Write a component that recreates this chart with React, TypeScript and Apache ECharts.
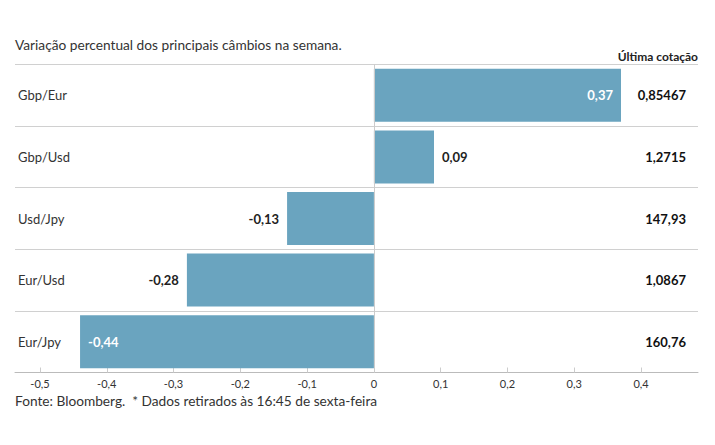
import React, { useEffect, useRef } from "react";
import * as echarts from "echarts";

const categories = ["Gbp/Eur", "Gbp/Usd", "Usd/Jpy", "Eur/Usd", "Eur/Jpy"];
const changes = [0.37, 0.09, -0.13, -0.28, -0.44];
const quotes = ["0,85467", "1,2715", "147,93", "1,0867", "160,76"];
const tickValues = [-0.5, -0.4, -0.3, -0.2, -0.1, 0, 0.1, 0.2, 0.3, 0.4];

const FONT = "Lato";
const BAR = "#6aa4bf";

const fmt = (v: number) => String(Math.round(v * 100) / 100).replace(".", ",");

export default function App() {
  const ref = useRef<HTMLDivElement>(null);
  useEffect(() => {
    document.body.style.margin = "0";
    const chart = echarts.init(ref.current!, null, { renderer: "svg" });
    const data = changes.map((v) => {
      const inside = Math.abs(v) > 0.3;
      return {
        value: v,
        label: {
          show: true,
          position: inside ? (v > 0 ? "insideRight" : "insideLeft") : v > 0 ? "right" : "left",
          distance: 8,
          color: inside ? "#ffffff" : "#222222",
          fontWeight: "bold",
          fontSize: 13,
          fontFamily: FONT,
          formatter: () => fmt(v),
        },
      };
    });
    chart.setOption({
      animation: false,
      textStyle: { fontFamily: FONT },
      title: [
        {
          text: "Variação percentual dos principais câmbios na semana.",
          left: 15,
          top: 37,
          padding: 0,
          textStyle: { fontSize: 13.7, fontWeight: "normal", color: "#333", fontFamily: FONT },
        },
        {
          text: "Fonte: Bloomberg.  * Dados retirados às 16:45 de sexta-feira",
          left: 15,
          top: 393,
          padding: 0,
          textStyle: { fontSize: 13.7, fontWeight: "normal", color: "#333", fontFamily: FONT },
        },
      ],
      graphic: [
        {
          type: "text",
          right: 17,
          top: 50,
          style: { text: "Última cotação", fontSize: 12, fontWeight: "bold", fill: "#222", fontFamily: FONT },
        },
      ],
      grid: { left: 15, right: 17, top: 64.5, bottom: 72.5, containLabel: false },
      xAxis: {
        type: "value",
        min: -0.5374,
        max: 0.4853,
        axisLine: { show: true, lineStyle: { color: "#bbbbbb", width: 1 } },
        axisTick: { show: true, inside: true, length: 5, customValues: tickValues, lineStyle: { color: "#cccccc" } },
        axisLabel: {
          customValues: tickValues,
          formatter: (v: number) => fmt(v),
          fontSize: 11,
          color: "#333",
          margin: 5,
          fontFamily: FONT,
        },
        splitLine: { show: false },
      },
      yAxis: [
        {
          type: "category",
          data: categories,
          inverse: true,
          axisLine: { show: false },
          axisTick: { show: false },
          splitLine: { show: true, lineStyle: { color: "#d0d0d0", width: 1 } },
          axisLabel: { inside: true, margin: 3, fontSize: 13, color: "#333", fontFamily: FONT, padding: [0, 0, 4, 0] },
        },
        {
          type: "category",
          position: "right",
          data: quotes,
          inverse: true,
          axisLine: { show: false },
          axisTick: { show: false },
          splitLine: { show: false },
          axisLabel: { inside: true, margin: 12, fontSize: 13, fontWeight: "bold", color: "#111", fontFamily: FONT },
        },
      ],
      series: [
        {
          type: "bar",
          yAxisIndex: 0,
          data,
          barCategoryGap: "14%",
          itemStyle: { color: BAR },
          markLine: {
            silent: true,
            symbol: "none",
            label: { show: false },
            lineStyle: { color: "#cccccc", type: "solid", width: 1 },
            data: [{ xAxis: 0 }],
          },
        },
      ],
    });
    return () => chart.dispose();
  }, []);
  return <div ref={ref} style={{ width: 715, height: 445 }} />;
}
